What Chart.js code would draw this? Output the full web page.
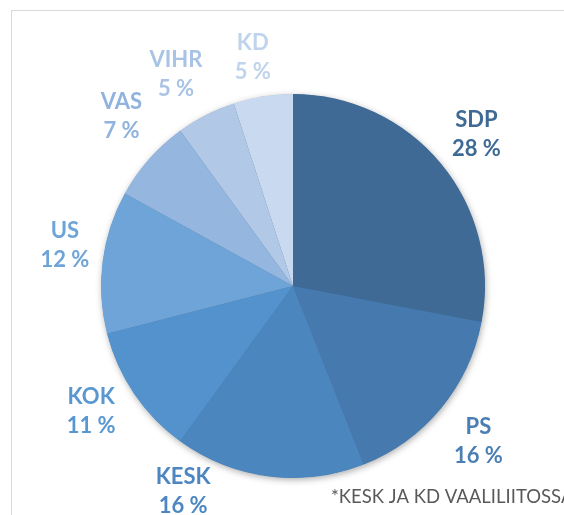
<!DOCTYPE html>
<html>
<head>
<meta charset="utf-8">
<script src="https://cdn.jsdelivr.net/npm/chart.js@4/dist/chart.umd.min.js"></script>
<style>
  body { margin: 0; background: #fff; }
  canvas { display: block; }
</style>
</head>
<body>
<canvas id="pieChart" width="564" height="515"></canvas>
<script>
// Chart Data
const parties = ['SDP', 'PS', 'KESK', 'KOK', 'US', 'VAS', 'VIHR', 'KD'];
const shares = [28, 16, 16, 11, 12, 7, 5, 5];
const note = '*KESK JA KD VAALILIITOSSA';

// Styles
const sliceColors = ['#3e6a95', '#4679ad', '#4b86be', '#5392cc', '#6fa4d8', '#95b7df', '#b1c8e6', '#c9d9ef'];
const labelColors = ['#3e6a95', '#4a7fb6', '#4d87c2', '#5897d1', '#6ea4d8', '#8fb3de', '#a9c3e5', '#bfd3ed'];
// label nudges (px) away from the plain mid-angle position
const labelNudge = [[0, 0], [2, 4], [-80, -31], [-5, -8], [8, -11], [7, -12], [-9, 0], [-3, 6]];

const framePlugin = {
    id: 'frame',
    beforeDraw(chart) {
        const ctx = chart.ctx;
        ctx.save();
        ctx.fillStyle = '#fff';
        ctx.fillRect(0, 0, chart.width, chart.height);
        ctx.strokeStyle = '#d9d9d9';
        ctx.lineWidth = 1;
        ctx.strokeRect(11.5, 10.5, chart.width, chart.height);
        ctx.restore();
    },
    beforeDatasetsDraw(chart) {
        // soft shadow behind the whole pie
        const arc = chart.getDatasetMeta(0).data[0];
        if (!arc) return;
        const ctx = chart.ctx;
        ctx.save();
        ctx.shadowColor = 'rgba(0, 0, 0, 0.35)';
        ctx.shadowBlur = 7;
        ctx.shadowOffsetX = 1;
        ctx.shadowOffsetY = 2;
        ctx.fillStyle = sliceColors[0];
        ctx.beginPath();
        ctx.arc(arc.x, arc.y, arc.outerRadius - 0.5, 0, Math.PI * 2);
        ctx.fill();
        ctx.restore();
    },
    afterDatasetsDraw(chart) {
        const ctx = chart.ctx;
        const meta = chart.getDatasetMeta(0);
        ctx.save();
        ctx.font = 'bold 22px Lato';
        ctx.textAlign = 'center';
        ctx.textBaseline = 'middle';
        meta.data.forEach((arc, i) => {
            const mid = (arc.startAngle + arc.endAngle) / 2;
            const r = arc.outerRadius + 46;
            const x = arc.x + Math.cos(mid) * r + labelNudge[i][0];
            const y = arc.y + Math.sin(mid) * r + labelNudge[i][1];
            ctx.fillStyle = labelColors[i];
            ctx.fillText(parties[i], x, y - 14.5);
            ctx.fillText(shares[i] + ' %', x, y + 14.5);
        });
        ctx.font = '18.5px Lato';
        ctx.fillStyle = '#595959';
        ctx.textAlign = 'left';
        ctx.fillText(note, 331, 497);
        ctx.restore();
    }
};

const chart = new Chart(document.getElementById('pieChart').getContext('2d'), {
    type: 'pie',
    data: {
        labels: parties,
        datasets: [{
            data: shares,
            backgroundColor: sliceColors,
            borderWidth: 0,
            hoverOffset: 0,
            offset: 0
        }]
    },
    options: {
        responsive: false,
        animation: false,
        events: [],
        layout: {
            padding: { left: 101, right: 79, top: 94, bottom: 37 }
        },
        plugins: {
            legend: { display: false },
            tooltip: { enabled: false }
        }
    },
    plugins: [framePlugin]
});
</script>
</body>
</html>
